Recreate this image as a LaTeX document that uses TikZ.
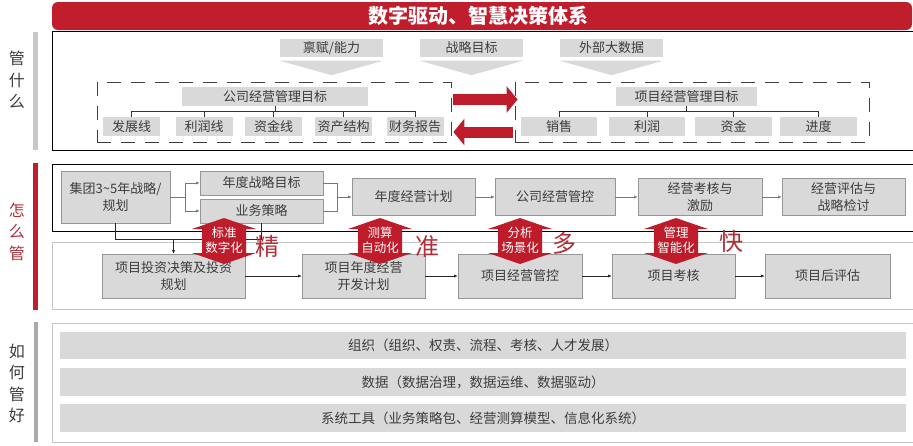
\documentclass[tikz,border=0pt]{standalone}
\usepackage{fontspec}
\setmainfont{Noto Sans CJK SC}
\usetikzlibrary{arrows.meta,calc}
\definecolor{tred}{RGB}{192,30,45}
\definecolor{ared}{RGB}{190,28,42}
\definecolor{boxgray}{RGB}{217,217,217}
\definecolor{boxline}{RGB}{150,150,150}
\definecolor{txt}{RGB}{60,60,60}
\definecolor{bargray}{RGB}{200,200,200}
\definecolor{lblred}{RGB}{170,50,60}
\definecolor{bigred}{RGB}{180,45,55}
\definecolor{conngray}{RGB}{120,120,120}
\definecolor{framegray}{RGB}{200,200,200}
\newcommand\vdarrow[1]{%
  \fill[ared] (#1,218) -- (#1+32,229) -- (#1+22,229) -- (#1+22,253) -- (#1+32,253) -- (#1,264)
    -- (#1-32,253) -- (#1-22,253) -- (#1-22,229) -- (#1-32,229) -- cycle;}
\tikzset{
  wh/.style 2 args={minimum width=#1pt, minimum height=#2pt},
  gbox/.style={fill=boxgray, inner sep=0pt, text=txt, font=\fontsize{13}{15}\selectfont, align=center},
  mbox/.style={gbox, draw=boxline, line width=0.6pt, font=\fontsize{13}{17}\selectfont},
  rowbox/.style={gbox, font=\fontsize{13.5}{16}\selectfont, minimum width=846pt, minimum height=27.5pt},
  tree/.style={draw=black!80, line width=0.6pt},
  goalframe/.style={draw=black!75, line width=0.8pt, dash pattern=on 14pt off 10pt, inner sep=0pt},
  sidelbl/.style={align=center, font=\fontsize{16}{21.5}\selectfont, text=txt},
  bigarrow/.style={ared, line width=11pt, -{Triangle[length=11pt,width=26pt]}},
  gconn/.style={draw=conngray, line width=0.6pt},
  garrow/.style={gconn, -{Latex[length=3.5pt,width=3pt]}},
  kconn/.style={draw=black!85, line width=0.6pt},
  karrow/.style={kconn, -{Latex[length=3.5pt,width=3pt]}},
  atext/.style={text=white, align=center, font=\fontsize{12.5}{15}\selectfont, inner sep=0pt},
  bigch/.style={text=bigred, font=\fontsize{24}{24}\selectfont, inner sep=0pt}
}
\begin{document}
\begin{tikzpicture}[x=1pt,y=-1pt]
\useasboundingbox (0,0) rectangle (913,445);
\fill[white] (0,0) rectangle (913,445);

% ---------- title ----------
\fill[tred, rounded corners=6pt] (52,2) rectangle (912,30);
\node[text=white, font=\fontsize{20}{22}\selectfont\bfseries] (title) at (478,16) {数字驱动、智慧决策体系};

% ---------- section 1: 管什么 ----------
\fill[bargray] (33,32) rectangle (38,150);
\node[sidelbl] (lbl1) at (17,80) {管\\什\\么};
\draw[black, line width=0.8pt] (52,31) rectangle (913.5,150);

\node[gbox, wh={103}{18}] (in1) at (331.5,48) {禀赋/能力};
\node[gbox, wh={103}{18}] (in2) at (471.5,48) {战略目标};
\node[gbox, wh={103}{18}] (in3) at (611.5,48) {外部大数据};
\foreach \n in {in1,in2,in3}
  \fill[boxgray] ($(\n.south west)+(0,3.5)$) -- ($(\n.south east)+(0,3.5)$) -- ($(\n.south)+(0,18)$) -- cycle;

\node[goalframe, wh={354}{60}] (lgoal) at (274,112) {};
\node[goalframe, wh={354}{60}] (rgoal) at (692,112) {};

\node[gbox, wh={186}{19}] (cg) at (275,96.5) {公司经营管理目标};
\node[gbox, wh={57}{19}] (c1) at (131.5,126.5) {发展线};
\node[gbox, wh={57}{19}] (c2) at (204,126.5) {利润线};
\node[gbox, wh={57}{19}] (c3) at (273.5,126.5) {资金线};
\node[gbox, wh={57}{19}] (c4) at (343.5,126.5) {资产结构};
\node[gbox, wh={57}{19}] (c5) at (415,126.5) {财务报告};
\foreach \c in {c1,c2,c3,c4,c5}
  \draw[tree] (cg.south) -- ++(0,5.5) -| (\c.north);

\node[gbox, wh={141}{19}] (pg) at (686.5,96.5) {项目经营管理目标};
\node[gbox, wh={76}{19}] (p1) at (559,126.5) {销售};
\node[gbox, wh={76}{19}] (p2) at (647,126.5) {利润};
\node[gbox, wh={77}{19}] (p3) at (733.5,126.5) {资金};
\node[gbox, wh={77}{19}] (p4) at (818.5,126.5) {进度};
\foreach \c in {p1,p2,p3,p4}
  \draw[tree] (pg.south) -- ++(0,5.5) -| (\c.north);

\draw[bigarrow] ([shift={(2,-12.5)}]lgoal.east) -- ([shift={(3,-12.5)}]rgoal.west);
\draw[bigarrow] ([shift={(-2,20)}]rgoal.west) -- ([shift={(2,20)}]lgoal.east);

% ---------- section 2: 怎么管 ----------
\fill[tred] (33,163) rectangle (38,310);
\node[sidelbl, text=lblred] (lbl2) at (17,231.5) {怎\\么\\管};
\draw[black, line width=0.8pt] (52,164) rectangle (913.5,231);
\draw[framegray, line width=0.8pt] (52,242) rectangle (913.5,309);

\node[mbox, wh={109}{52}] (g1) at (115.5,197) {集团3\textasciitilde5年战略/\\规划};
\node[mbox, wh={123}{24}] (g2) at (261.5,183) {年度战略目标};
\node[mbox, wh={123}{24}] (g3) at (261.5,211) {业务策略};
\node[mbox, wh={123}{37}] (g4) at (413.5,197) {年度经营计划};
\node[mbox, wh={120}{37}] (g5) at (555,197) {公司经营管控};
\node[mbox, wh={124}{37}] (g6) at (700,197) {经营考核与\\激励};
\node[mbox, wh={123}{37}] (g7) at (843.5,197) {经营评估与\\战略检讨};

\draw[garrow] (g1.east) -- ++(15,0) |- (g2.west);
\draw[garrow] (g1.east) -- ++(15,0) |- (g3.west);
\coordinate (m1) at (337.5,197);
\draw[gconn] (g2.east) -| (m1);
\draw[gconn] (g3.east) -| (m1);
\draw[garrow] (m1) -- (g4.west);
\draw[garrow] (g4.east) -- (g5.west);
\draw[garrow] (g5.east) -- (g6.west);
\draw[garrow] (g6.east) -- (g7.west);

\node[mbox, wh={143}{44}] (q1) at (173.5,276) {项目投资决策及投资\\规划};
\node[mbox, wh={123}{44}] (q2) at (363.5,276) {项目年度经营\\开发计划};
\node[mbox, wh={124}{44}] (q3) at (520,276) {项目经营管控};
\node[mbox, wh={123}{44}] (q4) at (673.5,276) {项目考核};
\node[mbox, wh={125}{44}] (q5) at (827.5,276) {项目后评估};

\coordinate (j1) at (173.5,239);
\draw[kconn] (g1.south) |- (j1);
\draw[kconn] (g3.south) |- (j1);
\draw[karrow] (j1) -- (q1.north);
\draw[karrow] (q1.east) -- (q2.west);
\draw[karrow] (q2.east) -- (q3.west);
\draw[karrow] (q3.east) -- (q4.west);
\draw[karrow] (q4.east) -- (q5.west);

\vdarrow{224}
\vdarrow{380}
\vdarrow{520}
\vdarrow{676}
\node[atext] (a1) at (224,240.5) {标准\\数字化};
\node[atext] (a2) at (380,240.5) {测算\\自动化};
\node[atext] (a3) at (520,240.5) {分析\\场景化};
\node[atext] (a4) at (676,240.5) {管理\\智能化};
\node[bigch] (k1) at (267,246) {精};
\node[bigch] (k2) at (427,246) {准};
\node[bigch] (k3) at (564,243) {多};
\node[bigch] (k4) at (731,241) {快};

% ---------- section 3: 如何管好 ----------
\fill[bargray!85!black] (33.5,322) rectangle (38,442);
\node[sidelbl] (lbl3) at (17,383.5) {如\\何\\管\\好};
\draw[framegray, line width=0.8pt] (52,323) rectangle (913.5,442);
\node[rowbox] (r1) at (483,345.5) {组织（组织、权责、流程、考核、人才发展）};
\node[rowbox] (r2) at (483,382) {数据（数据治理，数据运维、数据驱动）};
\node[rowbox] (r3) at (483,418) {系统工具（业务策略包、经营测算模型、信息化系统）};
\end{tikzpicture}
\end{document}
